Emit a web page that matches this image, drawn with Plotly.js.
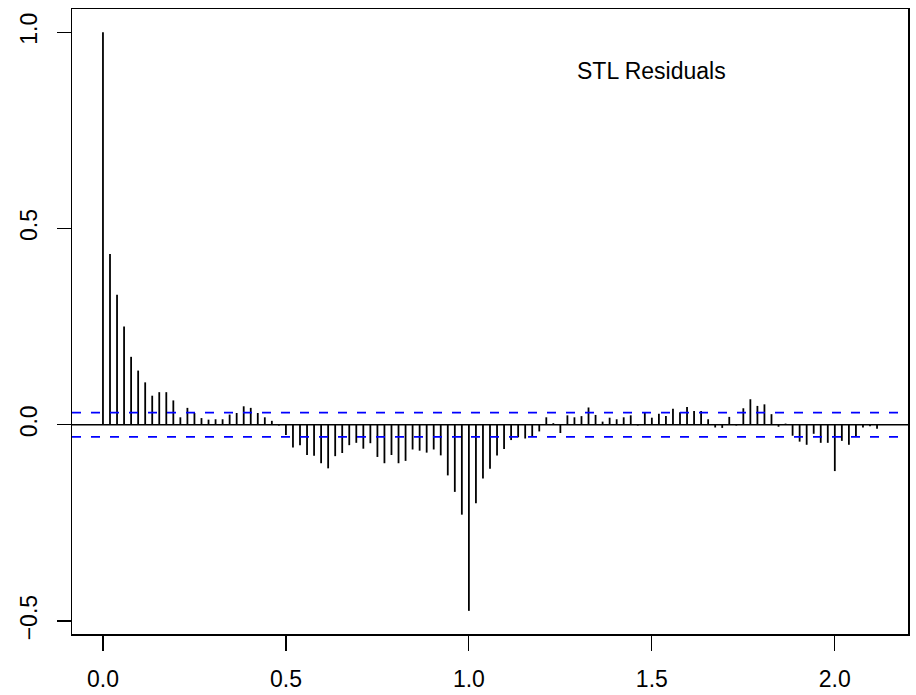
<!DOCTYPE html>
<html>
<head>
<meta charset="utf-8">
<script src="https://cdn.plot.ly/plotly-3.0.1.min.js"></script>
<style>html,body{margin:0;padding:0;background:#fff;}#chart{width:916px;height:695px;}</style>
</head>
<body>
<div id="chart"></div>
<script>
// ACF of STL residuals, weekly series (frequency 52), lags 0..110
const frequency = 52;
const acfValues = [
  1.000, 0.435, 0.331, 0.250, 0.173, 0.138, 0.108, 0.074, 0.083, 0.083,
  0.062, 0.019, 0.043, 0.030, 0.017, 0.013, 0.014, 0.014, 0.026, 0.030,
  0.047, 0.043, 0.030, 0.019, 0.010, -0.002, -0.026, -0.058, -0.052, -0.077,
  -0.079, -0.098, -0.111, -0.080, -0.072, -0.052, -0.046, -0.061, -0.047, -0.082,
  -0.098, -0.077, -0.098, -0.092, -0.063, -0.066, -0.071, -0.063, -0.078, -0.129,
  -0.171, -0.229, -0.474, -0.200, -0.137, -0.112, -0.078, -0.062, -0.039, -0.032,
  -0.035, -0.030, -0.017, 0.019, 0.004, -0.021, 0.024, 0.019, 0.022, 0.044,
  0.025, 0.008, 0.018, 0.014, 0.019, 0.024, -0.002, 0.030, 0.018, 0.028,
  0.022, 0.041, 0.032, 0.045, 0.035, 0.035, 0.014, -0.007, -0.008, 0.020,
  -0.002, 0.042, 0.065, 0.048, 0.052, 0.027, -0.005, 0.003, -0.028, -0.043,
  -0.051, -0.023, -0.046, -0.046, -0.118, -0.041, -0.051, -0.030, -0.007, -0.004,
  -0.010
];
const ciLimit = 0.031;
const titleText = "STL Residuals";
const xTicks = [0, 0.5, 1.0, 1.5, 2.0];
const yTicks = [-0.5, 0, 0.5, 1.0];

const lags = acfValues.map((v, k) => k / frequency);

// build vertical spikes
const sx = [], sy = [];
lags.forEach((l, i) => { sx.push(l, l, null); sy.push(0, acfValues[i], null); });

const maxLag = lags[lags.length - 1];
const xr = [0 - 0.04 * maxLag, maxLag + 0.04 * maxLag];
const ymin = Math.min(...acfValues), ymax = Math.max(...acfValues);
const yr = [ymin - 0.04 * (ymax - ymin), ymax + 0.04 * (ymax - ymin)];

const font = "Liberation Sans, Arial, Helvetica, sans-serif";

const traces = [
  {x: sx, y: sy, mode: 'lines', type: 'scatter', line: {color: '#000', width: 1.8}, hoverinfo: 'skip', showlegend: false},
  {x: xr, y: [0, 0], mode: 'lines', type: 'scatter', line: {color: '#000', width: 1.6}, hoverinfo: 'skip', showlegend: false},
  {x: xr, y: [ciLimit, ciLimit], mode: 'lines', type: 'scatter', line: {color: '#0000FF', width: 1.8, dash: '9px,10px'}, hoverinfo: 'skip', showlegend: false},
  {x: xr, y: [-ciLimit, -ciLimit], mode: 'lines', type: 'scatter', line: {color: '#0000FF', width: 1.8, dash: '9px,10px'}, hoverinfo: 'skip', showlegend: false}
];

const layout = {
  width: 916, height: 695,
  margin: {l: 72, r: 8, t: 9, b: 61, pad: 0},
  paper_bgcolor: '#fff', plot_bgcolor: '#fff',
  font: {family: font, color: '#000', size: 23},
  showlegend: false,
  xaxis: {
    range: xr, tickvals: xTicks, ticktext: xTicks.map(v => v.toFixed(1)),
    showgrid: false, zeroline: false, showline: true, mirror: true,
    linecolor: '#000', linewidth: 1.5, ticks: 'outside', ticklen: 15, tickwidth: 1.2, tickcolor: '#000',
    tickfont: {family: font, size: 23, color: '#000'}, ticklabelstandoff: 9
  },
  yaxis: {
    range: yr, tickvals: yTicks, ticktext: yTicks.map(v => (v < 0 ? '\u2212' : '') + Math.abs(v).toFixed(1)),
    showgrid: false, zeroline: false, showline: true, mirror: true,
    linecolor: '#000', linewidth: 1.5, ticks: 'outside', ticklen: 14, tickwidth: 1.2, tickcolor: '#000',
    tickangle: -90, tickfont: {family: font, size: 23, color: '#000'}, ticklabelstandoff: 10
  },
  annotations: [{
    text: titleText, x: 1.5, y: 0.9, xref: 'x', yref: 'y', showarrow: false,
    xanchor: 'center', yanchor: 'middle', font: {family: font, size: 23, color: '#000'}
  }]
};

Plotly.newPlot('chart', traces, layout, {staticPlot: true, displayModeBar: false});
</script>
</body>
</html>
